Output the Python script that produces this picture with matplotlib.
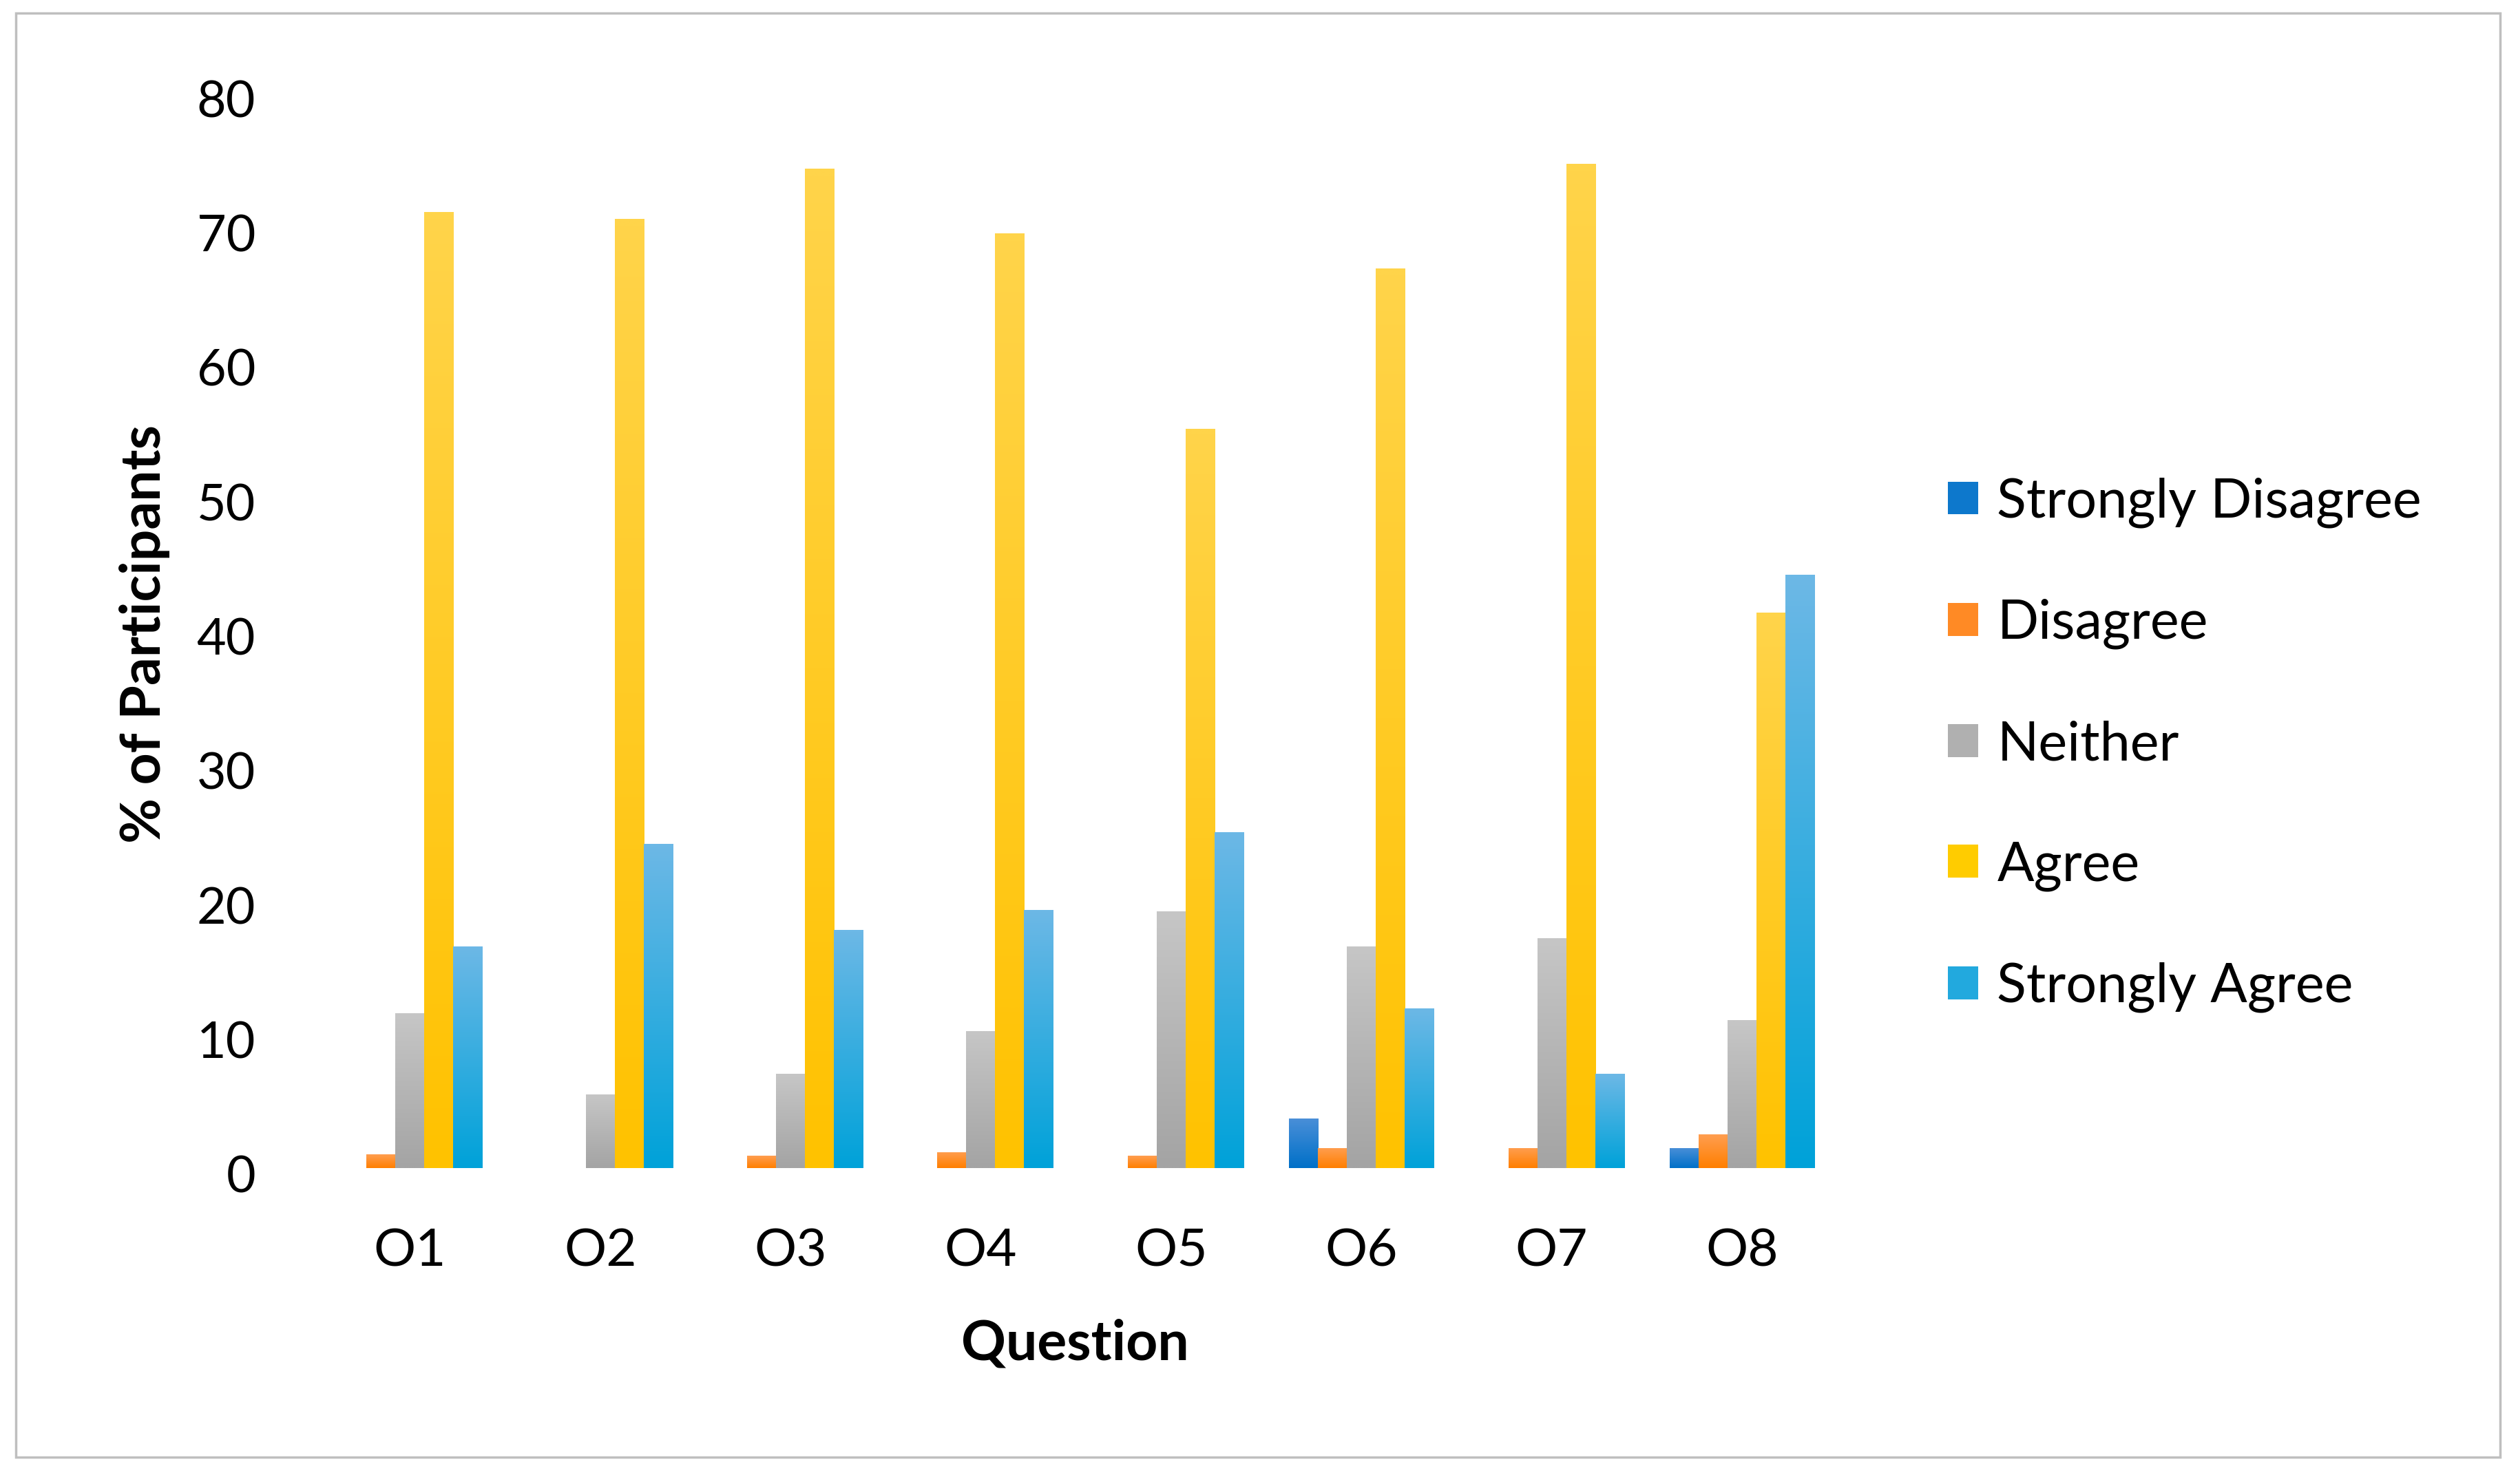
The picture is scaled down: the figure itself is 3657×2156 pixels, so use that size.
import numpy as np
import matplotlib
matplotlib.use('Agg')
import matplotlib.pyplot as plt
from matplotlib.colors import to_rgb
from matplotlib.patches import Rectangle
from matplotlib.transforms import ScaledTranslation

plt.rcParams['font.family'] = ['Lato', 'DejaVu Sans']

questions = ['O1', 'O2', 'O3', 'O4', 'O5', 'O6', 'O7', 'O8']
responses = ['Strongly Disagree', 'Disagree', 'Neither', 'Agree', 'Strongly Agree']

strongly_disagree = [0, 0, 0, 0, 0, 3.7, 0, 1.5]
disagree = [1.0, 0, 0.9, 1.2, 0.9, 1.5, 1.5, 2.5]
neither = [11.5, 5.5, 7.0, 10.2, 19.1, 16.5, 17.1, 11.0]
agree = [71.1, 70.6, 74.3, 69.5, 55.0, 66.9, 74.7, 41.3]
strongly_agree = [16.5, 24.1, 17.7, 19.2, 25.0, 11.9, 7.0, 44.1]

# (legend colour, gradient top, gradient bottom)
colors = [
    ('#0d78cc', '#4a8fd8', '#0070c8'),
    ('#ff8a25', '#ff9e50', '#ff7f00'),
    ('#b0b0b0', '#c6c6c6', '#a4a4a4'),
    ('#ffcc00', '#ffd44a', '#ffc200'),
    ('#22a9de', '#6cb8e6', '#00a2d9'),
]


def gradient_fill(ax, patch, top, bottom):
    """Paint a vertical gradient inside a bar patch."""
    x0, y0 = patch.get_x(), patch.get_y()
    w, h = patch.get_width(), patch.get_height()
    if h <= 0:
        return
    t = np.linspace(0, 1, 64)[:, None, None]
    img = (1 - t) * np.array(to_rgb(top)) + t * np.array(to_rgb(bottom))
    im = ax.imshow(img, extent=[x0, x0 + w, y0, y0 + h], aspect='auto',
                   interpolation='bilinear', zorder=3)
    im.set_clip_path(patch)


fig = plt.figure(figsize=(36.57, 21.56), dpi=100)
ax = fig.add_axes([0.125, 0.2129, 0.6046, 0.7249])

series = [strongly_disagree, disagree, neither, agree, strongly_agree]
x = np.arange(len(questions))
width = 0.152

for i, (vals, name, (c, top, bottom)) in enumerate(zip(series, responses, colors)):
    bars = ax.bar(x + (i - 2) * width, vals, width, color=c, label=name,
                  zorder=2, linewidth=0)
    for patch in bars.patches:
        gradient_fill(ax, patch, top, bottom)

ax.set_xlim(-0.5, len(questions) - 0.5)
ax.set_ylim(0, 80)
ax.set_yticks(range(0, 81, 10))
ax.set_xticks(x)
ax.set_xticklabels(questions)

for side in ['top', 'right', 'left', 'bottom']:
    ax.spines[side].set_visible(False)
ax.tick_params(axis='y', length=0, labelsize=53, pad=62)
ax.tick_params(axis='x', length=0, labelsize=55, pad=62)

# Excel-style: tick labels sit slightly below their value
offset = ScaledTranslation(0, -0.09, fig.dpi_scale_trans)
for lab in ax.get_yticklabels():
    lab.set_transform(lab.get_transform() + offset)

fig.text(0.0575, 0.573, '% of Participants', rotation=90, fontsize=58,
         fontweight='bold', ha='center', va='center')
fig.text(0.427, 0.0945, 'Question', fontsize=58, fontweight='bold',
         ha='center', va='center')

fig.legend(loc='center left', bbox_to_anchor=(0.7736, 0.498), frameon=False,
           fontsize=57, handlelength=0.55, handleheight=0.55, handletextpad=0.35,
           labelspacing=1.3, borderpad=0, borderaxespad=0)

# thin grey frame round the whole chart
fig.patches.append(Rectangle((23 / 3657, 1 - 2117 / 2156),
                             (3631 - 23) / 3657, (2117 - 19) / 2156,
                             transform=fig.transFigure, fill=False,
                             edgecolor='#bfbfbf', linewidth=2.5))

fig.savefig('out.png', dpi=100)
